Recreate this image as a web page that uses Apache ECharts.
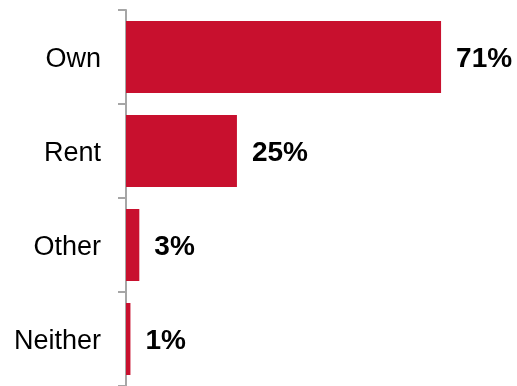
<!DOCTYPE html>
<html>
<head>
<meta charset="utf-8">
<script src="https://cdn.jsdelivr.net/npm/echarts@6/dist/echarts.min.js"></script>
<style>
  html, body { margin: 0; padding: 0; background: #fff; }
  #chart { width: 517px; height: 386px; }
</style>
</head>
<body>
<div id="chart"></div>
<script>
const categories = ['Own', 'Rent', 'Other', 'Neither'];
const shares = [71, 25, 3, 1];

const chart = echarts.init(document.getElementById('chart'));

chart.setOption({
    animation: false,
    grid: { left: 126, right: 36, top: 10, bottom: 0 },
    xAxis: {
        type: 'value',
        min: 0,
        max: 80,
        show: false
    },
    yAxis: {
        type: 'category',
        inverse: true,
        data: categories,
        axisLine: { lineStyle: { color: '#a6a6a6', width: 2 } },
        axisTick: { show: true, length: 8, lineStyle: { color: '#a6a6a6', width: 2 } },
        axisLabel: {
            margin: 25,
            formatter: v => '{c|' + v + '}',
            rich: {
                c: {
                    color: '#000',
                    fontFamily: 'Liberation Sans, Arial, sans-serif',
                    fontSize: 27,
                    padding: [6, 0, 0, 0]
                }
            }
        }
    },
    series: [{
        type: 'bar',
        data: shares,
        barWidth: 72,
        itemStyle: { color: '#c8102e' },
        label: {
            show: true,
            position: 'right',
            distance: 15,
            offset: [0, 2],
            formatter: p => p.value + '%',
            color: '#000',
            fontFamily: 'Liberation Sans, Arial, sans-serif',
            fontSize: 28,
            fontWeight: 'bold'
        }
    }]
});
</script>
</body>
</html>
